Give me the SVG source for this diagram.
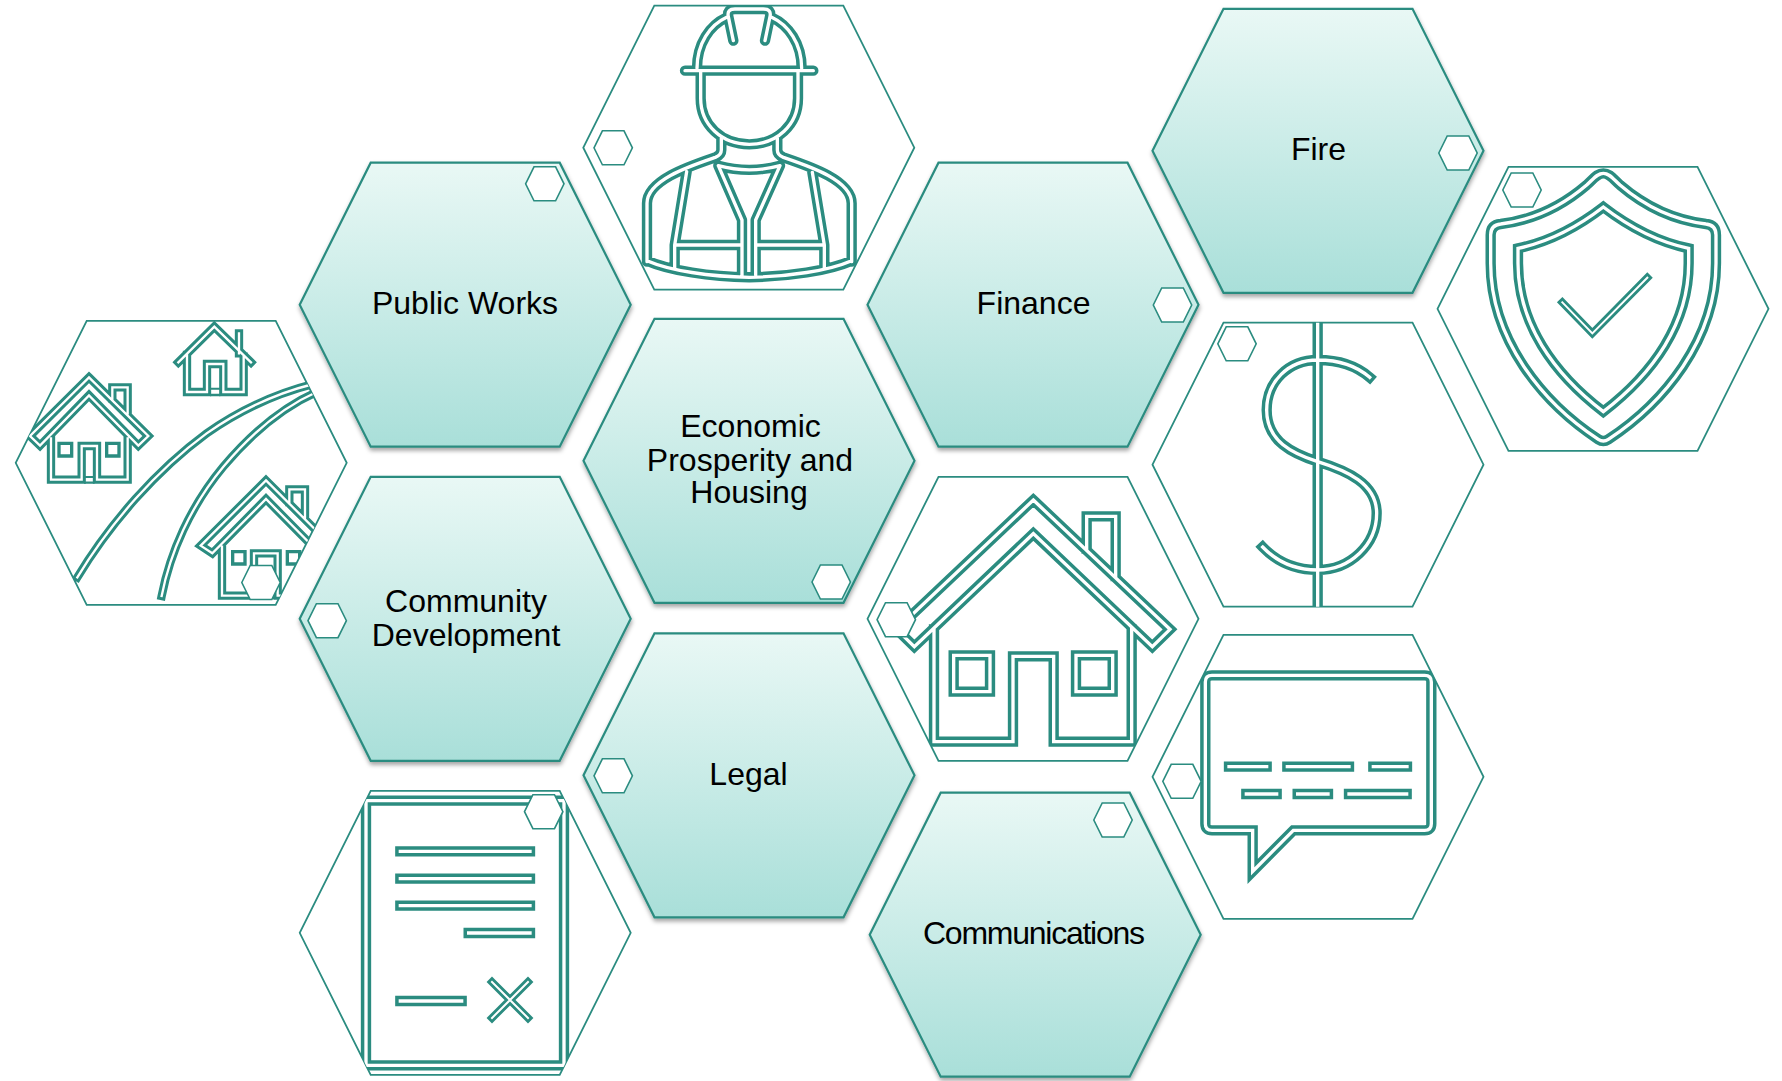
<svg xmlns="http://www.w3.org/2000/svg" width="1782" height="1081" viewBox="0 0 1782 1081">
<style>
.f{fill:url(#g);stroke:#2b8c80;stroke-width:2.2}
.e{fill:#fff;stroke:#2b8c80;stroke-width:1.8}
.s{fill:#fff;stroke:#2b8c80;stroke-width:1.6}
.o,.w,.o2,.w2,.o3,.w3{fill:none;stroke-linejoin:miter;stroke-miterlimit:10;stroke-linecap:square}
.o{stroke:#2b8c80;stroke-width:31}.w{stroke:#fff;stroke-width:10}
.o2{stroke:#2b8c80;stroke-width:23}.w2{stroke:#fff;stroke-width:6}
.o3{stroke:#2b8c80;stroke-width:25}.w3{stroke:#fff;stroke-width:7}
.r{stroke-linejoin:round;stroke-linecap:round}
.t{fill:none;stroke:#2b8c80}
text{font-family:"Liberation Sans",Arial,sans-serif;font-size:32px;fill:#000;text-anchor:middle}
</style>
<defs>
<linearGradient id="g" x1="0" y1="0" x2="0" y2="1"><stop offset="0" stop-color="#e9f8f5"/><stop offset="1" stop-color="#a9dfd9"/></linearGradient>
<filter id="sd" x="-10%" y="-10%" width="120%" height="120%"><feDropShadow dx="0.5" dy="3" stdDeviation="2" flood-color="#000" flood-opacity="0.35"/></filter>
<polygon id="hx" points="-165.5,0 -94.5,-142 94.5,-142 165.5,0 94.5,142 -94.5,142"/>
<polygon id="sh" points="-19.2,0 -10.8,-17 10.8,-17 19.2,0 10.8,17 -10.8,17"/>
<clipPath id="c-houses"><use href="#hx" transform="translate(181.2 462.8)"/></clipPath>
<clipPath id="c-worker"><use href="#hx" transform="translate(748.8 147.7)"/></clipPath>
<clipPath id="c-shield"><use href="#hx" transform="translate(1603 308.8)"/></clipPath>
<clipPath id="c-dollar"><use href="#hx" transform="translate(1318 464.7)"/></clipPath>
<clipPath id="c-house"><use href="#hx" transform="translate(1033 618.8)"/></clipPath>
<clipPath id="c-chat"><use href="#hx" transform="translate(1318 776.8)"/></clipPath>
<clipPath id="c-doc"><use href="#hx" transform="translate(465.2 932.8)"/></clipPath>
<path id="i-dollar" d="M503,30V900M659,202C620,168 565,150 503,150C415,150 350,215 350,300C350,395 430,432 503,455C590,482 680,520 680,610C680,705 600,780 503,780C430,780 380,755 338,711"/>
<path id="i-shield" d="M520,70C538,70 548,85 570,105C640,165 730,210 828,222Q858,225 858,255V340C858,570 700,760 535,868Q520,878 505,868C340,760 182,570 182,340V255Q182,225 212,222C310,210 400,165 470,105C492,85 502,70 520,70ZM520,171C590,225 680,275 776,295V340C776,520 670,670 520,785C370,670 264,520 264,340V295C360,275 450,225 520,171Z"/>
<path id="i-check" d="M397,457L487,550L652,383"/>
<path id="i-house" d="M520,90L930,478L877,530L520,191L163,530L110,478ZM680,236V139H767V318M222,478V815H459V559H581V815H815V478M281,556H390V665H281ZM648,556H758V665H648Z"/>
<path id="i-chat" d="M186,136H824Q844,136 844,156V581Q844,601 824,601H430L308,724V601H186Q166,601 166,581V156Q166,136 186,136ZM237,410H350M412,410H597M670,410H771M289,492H380M443,492H534M597,492H770"/>
<path id="i-doc" d="M228,62H822V856H228ZM331,214H720M331,296H720M331,377H720M536,459H720M331,663H515"/>
<path id="i-x" d="M606,606L714,714M714,606L606,714"/>
<path id="i-houses" d="M232,832C330,670 470,510 620,400C720,330 830,280 940,252M485,888C510,760 570,620 670,500C750,405 840,325 950,276M267,232L445,408L415,437L267,286L120,437L90,408ZM337,296V262H383V340M153,415V539H245V438H291V539H383V415M535,187L643,80L753,187M717,100V160M561,165V276H621V192H670V276H731V170M798,541L994,737L959,760L798,597L637,760L602,737ZM868,606V568H915V652M666,740V887H762V760H833V887H930V740"/>
<path id="i-worker" d="M381,205C381,130 420,75 470,52M695,205C695,130 655,75 605,52M490,122L475,50Q470,27 495,27H580Q605,27 600,50L585,122M345,212H730M392,212V295C392,375 455,433 538,433C621,433 684,375 684,295V212M454,415V450Q454,465 436,472C360,498 231,540 231,610V785M622,415V450Q622,465 640,472C716,498 845,540 845,610V785M445,497Q538,522 630,497M445,497L516,660V825M630,497L557,660V825M350,515L314,735V805M727,517L763,735V805M314,735H516M557,735H763M231,782C300,812 420,830 538,832C656,830 776,812 845,782"/>
</defs>

<g id="node-houses">
<use href="#hx" class="e" transform="translate(181.2 462.8)"/>
<g clip-path="url(#c-houses)"><g transform="translate(0 300) scale(.33333)">
<use href="#i-houses" class="o3"/><use href="#i-houses" class="w3"/>
<path class="t" stroke-width="7" d="M252,548H284M630,285H661M772,894H823"/>
<path class="t" stroke-width="6" d="M255,531H282M630,266H661"/>
<path class="t" stroke-width="10" d="M177,430h38v38h-38zM320,430h37v38h-37zM698,755h37v37h-37zM862,755h37v37h-37z"/>
</g></g>
<use href="#sh" class="s" transform="translate(261 582.5)"/>
</g>

<g id="node-public-works">
<use href="#hx" class="f" filter="url(#sd)" transform="translate(465.2 304.7)"/>
<text x="465" y="314">Public Works</text>
<use href="#sh" class="s" transform="translate(544.8 183.8)"/>
</g>

<g id="node-worker">
<use href="#hx" class="e" transform="translate(748.8 147.7)"/>
<g clip-path="url(#c-worker)"><g transform="translate(570 0) scale(.33333)">
<use href="#i-worker" class="o r"/><use href="#i-worker" class="w r"/>
<path class="t" stroke-width="8" d="M526,820H547"/>
</g></g>
<use href="#sh" class="s" transform="translate(613.2 147.8)"/>
</g>

<g id="node-economic">
<use href="#hx" class="f" filter="url(#sd)" transform="translate(749 460.8)"/>
<text x="750.5" y="437.3">Economic</text>
<text x="750" y="471.3">Prosperity and</text>
<text x="749" y="503.3">Housing</text>
<use href="#sh" class="s" transform="translate(831.2 582)"/>
</g>

<g id="node-community">
<use href="#hx" class="f" filter="url(#sd)" transform="translate(465.2 618.8)"/>
<text x="466" y="611.7">Community</text>
<text x="466" y="645.7">Development</text>
<use href="#sh" class="s" transform="translate(327.2 620.7)"/>
</g>

<g id="node-legal">
<use href="#hx" class="f" filter="url(#sd)" transform="translate(749 775.3)"/>
<text x="748.5" y="785">Legal</text>
<use href="#sh" class="s" transform="translate(613.2 775.8)"/>
</g>

<g id="node-document">
<use href="#hx" class="e" transform="translate(465.2 932.8)"/>
<g clip-path="url(#c-doc)"><g transform="translate(290 780) scale(.33333)">
<use href="#i-doc" class="o"/><use href="#i-doc" class="w"/>
<use href="#i-x" class="o2"/><use href="#i-x" class="w2"/>
</g></g>
<use href="#sh" class="s" transform="translate(543.7 811.7)"/>
</g>

<g id="node-finance">
<use href="#hx" class="f" filter="url(#sd)" transform="translate(1033 304.7)"/>
<text x="1033.5" y="313.5">Finance</text>
<use href="#sh" class="s" transform="translate(1172.5 305)"/>
</g>

<g id="node-house">
<use href="#hx" class="e" transform="translate(1033 618.8)"/>
<g clip-path="url(#c-house)"><g transform="translate(860 470) scale(.33333)">
<use href="#i-house" class="o"/><use href="#i-house" class="w"/>
</g></g>
<use href="#sh" class="s" transform="translate(896.3 619.7)"/>
</g>

<g id="node-communications">
<use href="#hx" class="f" filter="url(#sd)" transform="translate(1035.2 934.7)"/>
<text x="1034" y="943.5" textLength="222" lengthAdjust="spacing">Communications</text>
<use href="#sh" class="s" transform="translate(1113 820)"/>
</g>

<g id="node-fire">
<use href="#hx" class="f" filter="url(#sd)" transform="translate(1318 150.8)"/>
<text x="1318.5" y="160">Fire</text>
<use href="#sh" class="s" transform="translate(1458 153)"/>
</g>

<g id="node-dollar">
<use href="#hx" class="e" transform="translate(1318 464.7)"/>
<g clip-path="url(#c-dollar)"><g transform="translate(1150 310) scale(.33333)">
<use href="#i-dollar" class="o"/><use href="#i-dollar" class="w"/>
</g></g>
<use href="#sh" class="s" transform="translate(1237 343.8)"/>
</g>

<g id="node-chat">
<use href="#hx" class="e" transform="translate(1318 776.8)"/>
<g clip-path="url(#c-chat)"><g transform="translate(1150 630) scale(.33333)">
<use href="#i-chat" class="o"/><use href="#i-chat" class="w"/>
</g></g>
<use href="#sh" class="s" transform="translate(1182 781.3)"/>
</g>

<g id="node-shield">
<use href="#hx" class="e" transform="translate(1603 308.8)"/>
<g clip-path="url(#c-shield)"><g transform="translate(1430 150) scale(.33333)">
<use href="#i-shield" class="o"/><use href="#i-shield" class="w"/>
<use href="#i-check" class="o2"/><use href="#i-check" class="w2"/>
</g></g>
<use href="#sh" class="s" transform="translate(1522 190)"/>
</g>
</svg>
